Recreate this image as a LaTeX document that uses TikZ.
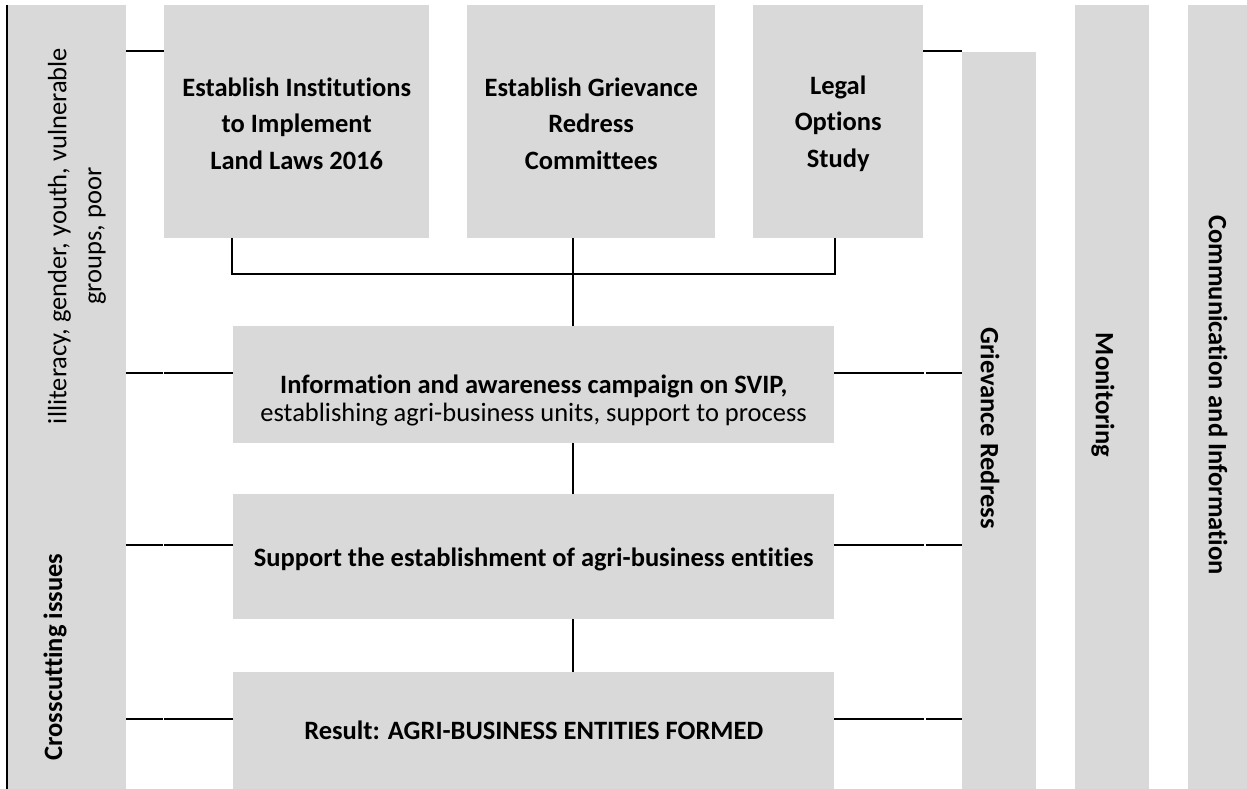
\documentclass[tikz,border=0pt]{standalone}
\usepackage{fontspec}
\setmainfont{Carlito}[Ligatures=NoCommon]
\usepackage{xcolor}
\usetikzlibrary{positioning,calc}
\definecolor{boxgray}{RGB}{217,217,217}

\begin{document}
\begin{tikzpicture}[
  x=1pt, y=-1pt,
  font=\fontsize{26.5}{36.5}\selectfont,
  box/.style={fill=boxgray, anchor=north west, inner sep=0pt, align=center},
  bold/.style={font=\fontsize{26.5}{36.5}\selectfont\bfseries},
  vlab/.style={align=center, inner sep=0pt},
  conn/.style={line width=2pt}
]
\useasboundingbox (0,0) rectangle (1247,789);

% side bars
\node[box, minimum width=119pt, minimum height=784pt] (cross) at (7,5) {};
\node[box, minimum width=74pt, minimum height=737pt] (grv) at (962,52) {};
\node[box, minimum width=74pt, minimum height=784pt] (mon) at (1075,5) {};
\node[box, minimum width=59pt, minimum height=784pt] (com) at (1188,5) {};
\draw[line width=2pt] (cross.north west) -- (cross.south west);

\node[vlab, rotate=90, font=\fontsize{26.5}{35}\selectfont] (issues) at (77,236)
  {illiteracy, gender, youth, vulnerable\\groups, poor};
\node[vlab, rotate=90, bold] (crosslab) at (55,657) {Crosscutting issues};
\node[vlab, rotate=-90, bold] (grvlab) at (990,428) {Grievance Redress};
\node[vlab, rotate=-90, bold] (monlab) at (1103,395) {Monitoring};
\node[vlab, rotate=-90, bold] (comlab) at (1218,395) {Communication and Information};

% activity boxes
\node[box, minimum width=265pt, minimum height=233pt] (inst) at (164,5) {};
\node[box, minimum width=248pt, minimum height=233pt] (grc) at (467,5) {};
\node[box, minimum width=170pt, minimum height=233pt] (legal) at (753,5) {};
\foreach \n/\t in {inst/{Establish Institutions\\to Implement\\Land Laws 2016},
                   grc/{Establish Grievance\\Redress\\Committees},
                   legal/{Legal\\Options\\Study}}
  \node[vlab, bold] (\n text) at ([yshift=-2pt]\n.center) {\t};
\node[box, minimum width=601pt, minimum height=117pt] (info) at (233,326) {};
\node[vlab, font=\fontsize{26.5}{28}\selectfont] (infotext) at ([yshift=-16pt]info.center)
  {\textbf{Information and awareness campaign on SVIP,}\\establishing agri-business units, support to process};
\node[box, minimum width=601pt, minimum height=125pt] (sup) at (233,494) {};
\node[vlab, bold] (suptext) at ([yshift=-3pt]sup.center)
  {Support the establishment of agri-business entities};
\node[box, bold, minimum width=601pt, minimum height=117pt] (res) at (233,672)
  {Result: AGRI-BUSINESS ENTITIES FORMED};

% tree under the top row
\coordinate (mid) at ([xshift=106pt]grc.south west);
\coordinate (lt) at ([xshift=68pt]inst.south west);
\coordinate (rt) at ([xshift=82pt]legal.south west);
\draw[conn] (lt) -- ++(0,36) -| (rt);
\draw[conn] (mid) -- (mid |- info.north);
\draw[conn] (mid |- info.south) -- (mid |- sup.north);
\draw[conn] (mid |- sup.south) -- (mid |- res.north);

% links to the side bars
\coordinate (tl) at ([yshift=-46pt]inst.north west);
\coordinate (tr) at ([yshift=-46pt]legal.north east);
\draw[conn] (tl) -- (cross.east |- tl);
\draw[conn] (tr) -- (grv.north west |- tr);
\foreach \n in {info,sup,res}{
  \coordinate (l\n) at ([yshift=11.5pt]\n.west);
  \coordinate (r\n) at ([yshift=11.5pt]\n.east);
  \draw[conn] (l\n) -- ++(-69,0) ++(-1.5,0) -- (cross.east |- l\n);
  \draw[conn] (r\n) -- ++(90,0) ++(2,0) -- (grv.west |- r\n);
}
\end{tikzpicture}
\end{document}
